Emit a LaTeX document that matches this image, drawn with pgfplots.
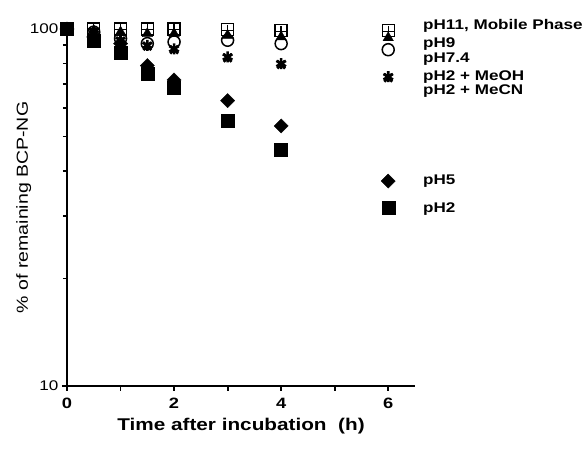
\documentclass[border=0pt]{standalone}
\usepackage{pgfplots}
\pgfplotsset{compat=1.18}
\usepackage{fontspec}
\setmainfont{Liberation Sans}
\newfontfamily\wide[FakeStretch=1.22]{Liberation Sans}
\begin{document}
\begin{tikzpicture}[x=1pt,y=1pt]
\path[use as bounding box] (-67,-69) rectangle (517,386);
\begin{axis}[
  at={(0,0)}, anchor=south west,
  scale only axis, width=348pt, height=357pt,
  xmin=0, xmax=6.5, ymin=10, ymax=100,
  ymode=log, clip=false,
  axis lines=left, axis line style={-, line width=2.2pt},
  xtick={0,1,2,3,4,5,6}, xticklabels={0,,2,,4,,6},
  ytick={10,100}, yticklabels={10,100},
  minor ytick={20,30,40,50,60,70,80,90},
  tick align=outside,
  major tick length=5pt, minor tick length=4pt,
  tick style={line width=1.8pt, black},
  x tick label style={font=\wide\fontsize{15}{15}\selectfont\bfseries, yshift=-4pt},
  y tick label style={font=\wide\fontsize{14}{14}\selectfont},
  /pgf/number format/assume math mode=true,
  xlabel={Time after incubation\ \ (h)},
  xlabel style={font=\wide\fontsize{17}{17}\selectfont\bfseries, yshift=-2pt},
  ylabel={\% of remaining BCP-NG},
  ylabel style={font=\wide\fontsize{16}{16}\selectfont, yshift=-8pt},
]
% pH11 (open square)
\addplot[only marks, mark=square, mark size=6pt, mark options={line width=1.4pt}] coordinates {
(0,100)(0.5,100)(1,100)(1.5,100)(2,100)(3,99.5)(4,99)(6,99)};
% Mobile phase (plus inside)
\addplot[only marks, mark=+, mark size=5.5pt, mark options={line width=1.4pt}] coordinates {
(0,100)(0.5,100)(1,99.5)(1.5,99.5)(2,99.5)(3,99)(4,98.5)(6,98.5)};
% pH9 (filled triangle)
\addplot[only marks, mark=triangle*, mark size=6pt] coordinates {
(0,100)(0.5,99)(1,98)(1.5,97)(2,97)(3,96)(4,95)(6,94.5)};
% pH7.4 (open circle)
\addplot[only marks, mark=o, mark size=6pt, mark options={line width=1.5pt, fill=white}] coordinates {
(0,100)(0.5,98)(1,94)(1.5,91)(2,92)(3,93)(4,91)(6,87.5)};
% pH2 + MeOH
\addplot[only marks, mark=asterisk, mark size=5.5pt, mark options={line width=2.6pt}] coordinates {
(0,100)(0.5,97)(1,93)(1.5,90)(2,88)(3,83.5)(4,80)(6,73.5)};
% pH2 + MeCN
\addplot[only marks, mark=x, mark size=5.5pt, mark options={line width=2.6pt}] coordinates {
(0,100)(0.5,96.5)(1,92.5)(1.5,89.5)(2,87.5)(3,83)(4,79.5)(6,73)};
% pH5 (filled diamond)
\addplot[only marks, mark=square*, mark size=5pt, mark options={rotate=45}] coordinates {
(0,100)(0.5,95)(1,91)(1.5,79)(2,72)(3,63)(4,53.5)};
% pH2 (filled square)
\addplot[only marks, mark=square*, mark size=6.5pt] coordinates {
(0,100)(0.5,93)(1,86)(1.5,75)(2,68.5)(3,55.5)(4,46)};
% legend markers
\addplot[only marks, mark=square*, mark size=5pt, mark options={rotate=45}] coordinates {(6,37.5)};
\addplot[only marks, mark=square*, mark size=6.5pt] coordinates {(6,31.5)};
\begin{scope}[every node/.style={anchor=west, font=\wide\fontsize{14}{14}\selectfont\bfseries, inner sep=0pt}]
\node at (axis cs:6.65,102) {pH11, Mobile Phase};
\node at (axis cs:6.65,90.5) {pH9};
\node at (axis cs:6.65,82.5) {pH7.4};
\node at (axis cs:6.65,73.5) {pH2 + MeOH};
\node at (axis cs:6.65,67) {pH2 + MeCN};
\node at (axis cs:6.65,37.5) {pH5};
\node at (axis cs:6.65,31.3) {pH2};
\end{scope}
\end{axis}
\end{tikzpicture}
\end{document}
